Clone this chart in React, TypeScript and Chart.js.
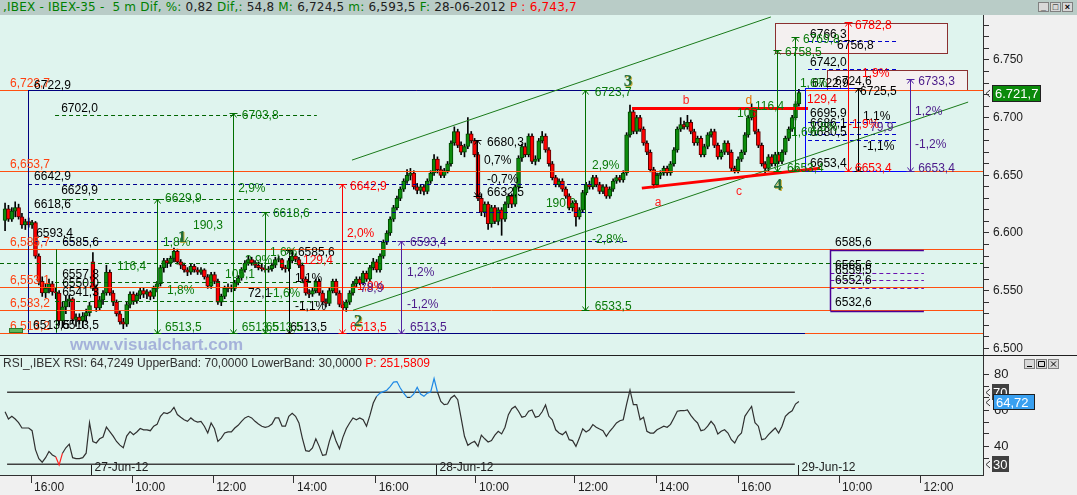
import React, { useEffect, useRef } from 'react';
import { Chart, registerables } from 'chart.js';

Chart.register(...registerables);

// ---------------- DATA ----------------
// 5-minute IBEX-35 candles: [open, high, low, close]
const bars26Jun: number[][] = [
  [6611, 6626, 6602, 6621], [6621, 6624, 6610, 6612], [6612, 6622, 6610, 6619], [6619, 6627, 6614, 6622],
  [6622, 6625, 6612, 6614], [6614, 6617, 6604, 6607], [6607, 6612, 6603, 6610], [6610, 6613, 6605, 6607],
  [6607, 6611, 6604, 6609], [6609, 6610, 6578, 6580], [6580, 6582, 6555, 6558], [6558, 6562, 6545, 6548],
  [6548, 6556, 6544, 6552], [6552, 6560, 6548, 6556], [6556, 6558, 6546, 6549], [6549, 6552, 6543, 6548],
  [6548, 6550, 6520, 6524], [6524, 6540, 6518, 6536], [6536, 6545, 6530, 6541], [6541, 6546, 6536, 6543],
  [6543, 6544, 6522, 6525], [6525, 6530, 6519, 6527], [6527, 6530, 6521, 6524], [6524, 6531, 6518, 6528],
  [6528, 6534, 6523, 6531], [6531, 6540, 6528, 6537],
];
const bars27Jun: number[][] = [
  [6575, 6583, 6550, 6552], [6552, 6555, 6532, 6535], [6535, 6545, 6533, 6542], [6542, 6550, 6538, 6548],
  [6548, 6572, 6546, 6566], [6566, 6568, 6546, 6548], [6548, 6550, 6537, 6540], [6540, 6542, 6528, 6530],
  [6530, 6533, 6521, 6523], [6523, 6526, 6517, 6521], [6521, 6540, 6519, 6538], [6538, 6549, 6535, 6547],
  [6547, 6549, 6538, 6541], [6541, 6548, 6539, 6546], [6546, 6552, 6543, 6550], [6550, 6552, 6544, 6547],
  [6547, 6551, 6543, 6549], [6549, 6550, 6542, 6545], [6545, 6554, 6543, 6552], [6552, 6558, 6549, 6556],
  [6556, 6572, 6554, 6570], [6570, 6578, 6566, 6576], [6576, 6578, 6570, 6574], [6574, 6580, 6571, 6578],
  [6578, 6587, 6575, 6584], [6584, 6586, 6573, 6575], [6575, 6577, 6569, 6572], [6572, 6574, 6566, 6568],
  [6568, 6570, 6563, 6566], [6566, 6573, 6564, 6571], [6571, 6573, 6566, 6568], [6568, 6570, 6564, 6566],
  [6566, 6570, 6564, 6568], [6568, 6569, 6560, 6562], [6562, 6564, 6552, 6554], [6554, 6566, 6552, 6564],
  [6564, 6566, 6556, 6558], [6558, 6560, 6538, 6540], [6540, 6547, 6537, 6545], [6545, 6554, 6543, 6552],
  [6552, 6556, 6549, 6553], [6553, 6555, 6549, 6552], [6552, 6559, 6550, 6557], [6557, 6563, 6555, 6561],
  [6561, 6570, 6559, 6568], [6568, 6576, 6566, 6574], [6574, 6580, 6572, 6577], [6577, 6579, 6572, 6574],
  [6574, 6576, 6570, 6572], [6572, 6575, 6568, 6570], [6570, 6573, 6567, 6569], [6569, 6572, 6566, 6568],
  [6568, 6571, 6566, 6569], [6569, 6574, 6567, 6572], [6572, 6579, 6570, 6577], [6577, 6580, 6575, 6577.5],
  [6577, 6578, 6568, 6570], [6570, 6572, 6566, 6569], [6569, 6578, 6567, 6576], [6576, 6586, 6574, 6580],
  [6580, 6582, 6575, 6577], [6577, 6579, 6570, 6572], [6572, 6574, 6558, 6560], [6560, 6562, 6546, 6548],
  [6548, 6551, 6544, 6547], [6547, 6552, 6545, 6550], [6550, 6560, 6548, 6558], [6558, 6560, 6546, 6548],
  [6548, 6550, 6538, 6540], [6540, 6543, 6536, 6539], [6539, 6552, 6537, 6550], [6550, 6560, 6548, 6558],
  [6558, 6560, 6546, 6548], [6548, 6550, 6536, 6538], [6538, 6541, 6533, 6535], [6535, 6542, 6532, 6540],
  [6540, 6550, 6538, 6548], [6548, 6558, 6546, 6556], [6556, 6562, 6553, 6560], [6560, 6562, 6555, 6557],
  [6557, 6567, 6555, 6565], [6565, 6567, 6558, 6560], [6560, 6572, 6558, 6570], [6570, 6578, 6568, 6575],
  [6575, 6577, 6566, 6568], [6568, 6582, 6566, 6580], [6580, 6594, 6578, 6592], [6592, 6602, 6590, 6600],
  [6600, 6614, 6598, 6612], [6612, 6624, 6610, 6622], [6622, 6632, 6620, 6630], [6630, 6640, 6628, 6638],
  [6638, 6647, 6636, 6645], [6645, 6655, 6643, 6650], [6650, 6656, 6646, 6652], [6652, 6654, 6638, 6640],
  [6640, 6643, 6634, 6637], [6637, 6642, 6634, 6640], [6640, 6642, 6633, 6636], [6636, 6647, 6634, 6645],
  [6645, 6654, 6643, 6652], [6652, 6668, 6650, 6664],
];
const bars28Jun: number[][] = [
  [6664, 6666, 6652, 6655], [6655, 6658, 6648, 6650], [6650, 6656, 6648, 6654], [6654, 6662, 6652, 6660],
  [6660, 6680, 6658, 6678], [6678, 6692, 6676, 6688], [6688, 6690, 6674, 6676], [6676, 6679, 6668, 6670],
  [6670, 6677, 6666, 6675], [6675, 6700, 6673, 6686], [6686, 6688, 6678, 6680], [6680, 6682, 6666, 6668],
  [6668, 6670, 6628, 6630], [6630, 6634, 6615, 6618], [6618, 6627, 6614, 6625], [6625, 6627, 6603, 6608],
  [6608, 6624, 6605, 6622], [6622, 6624, 6608, 6610], [6610, 6622, 6607, 6620], [6620, 6622, 6598, 6612],
  [6612, 6627, 6610, 6625], [6625, 6634, 6622, 6632], [6632, 6634, 6622, 6625], [6625, 6642, 6623, 6640],
  [6640, 6667, 6638, 6665], [6665, 6677, 6662, 6675], [6675, 6678, 6666, 6668], [6668, 6686, 6666, 6684],
  [6684, 6686, 6660, 6662], [6662, 6667, 6659, 6664], [6664, 6682, 6662, 6680], [6680, 6688, 6678, 6684],
  [6684, 6686, 6670, 6672], [6672, 6674, 6658, 6660], [6660, 6662, 6646, 6648], [6648, 6650, 6640, 6642],
  [6642, 6647, 6640, 6645], [6645, 6647, 6636, 6638], [6638, 6640, 6630, 6632], [6632, 6634, 6620, 6622],
  [6622, 6628, 6619, 6626], [6626, 6628, 6606, 6614], [6614, 6622, 6612, 6620], [6620, 6637, 6618, 6635],
  [6635, 6644, 6633, 6642], [6642, 6645, 6638, 6640], [6640, 6650, 6638, 6648], [6648, 6650, 6640, 6642],
  [6642, 6644, 6634, 6636], [6636, 6642, 6634, 6640], [6640, 6642, 6630, 6632], [6632, 6640, 6630, 6638],
  [6638, 6647, 6636, 6645], [6645, 6650, 6643, 6648], [6648, 6650, 6644, 6646], [6646, 6654, 6644, 6652],
  [6652, 6687, 6650, 6685], [6685, 6711, 6683, 6705], [6705, 6707, 6686, 6688], [6688, 6702, 6686, 6700],
  [6700, 6702, 6688, 6690], [6690, 6692, 6676, 6678], [6678, 6680, 6668, 6670], [6670, 6672, 6653, 6655],
  [6655, 6657, 6639, 6642], [6642, 6652, 6640, 6650], [6650, 6654, 6647, 6652], [6652, 6658, 6650, 6656],
  [6656, 6658, 6650, 6652], [6652, 6662, 6650, 6660], [6660, 6674, 6658, 6672], [6672, 6692, 6670, 6690],
  [6690, 6700, 6688, 6694], [6694, 6697, 6690, 6692], [6692, 6702, 6690, 6696], [6696, 6698, 6686, 6688],
  [6688, 6690, 6676, 6678], [6678, 6684, 6676, 6682], [6682, 6684, 6666, 6668], [6668, 6677, 6666, 6675],
  [6675, 6687, 6673, 6685], [6685, 6690, 6683, 6688], [6688, 6690, 6674, 6676], [6676, 6678, 6664, 6666],
  [6666, 6672, 6664, 6670], [6670, 6680, 6668, 6678], [6678, 6680, 6668, 6670], [6670, 6672, 6654, 6656],
  [6656, 6658, 6652, 6654], [6654, 6666, 6652, 6664], [6664, 6672, 6662, 6670], [6670, 6687, 6668, 6685],
  [6685, 6702, 6683, 6700], [6700, 6712, 6698, 6707], [6707, 6709, 6686, 6688], [6688, 6690, 6674, 6676],
  [6676, 6678, 6658, 6660], [6660, 6662, 6652, 6656], [6656, 6668, 6654, 6666], [6666, 6668, 6658, 6660],
  [6660, 6670, 6658, 6668], [6668, 6670, 6660, 6662], [6662, 6672, 6660, 6670], [6670, 6684, 6668, 6682],
  [6682, 6692, 6680, 6690], [6690, 6702, 6688, 6700], [6700, 6714, 6698, 6712], [6712, 6724.5, 6710, 6721.7],
];

// RSI values, one per candle
const rsiValues: number[] = [
  59, 55, 56.5, 55, 53, 50, 50, 50, 48.5, 38,
  33, 31, 33.5, 37, 35, 34, 29.5, 36, 39, 41,
  33.5, 33, 33, 33.5, 36, 53, 42.5, 41.7, 44, 45,
  50.5, 48, 45.5, 42.5, 40.5, 39, 45.5, 48, 46.3, 47.8,
  49.7, 49, 49, 48.5, 51, 52, 56.5, 58.5, 58, 59,
  61.5, 57.5, 56, 54.6, 53.7, 55.6, 54, 53.3, 53.7, 51,
  47.2, 52.8, 49.6, 42.6, 44.4, 47.2, 47.8, 47.8, 50, 51.5,
  53.7, 55.6, 56.5, 55.6, 53.7, 52.2, 51, 50.4, 50.8, 52.2,
  55.6, 55.6, 51, 51, 56.5, 58.2, 56.5, 52.8, 44.4, 37.4,
  37, 38.9, 44, 39.8, 34.8, 35.2, 42.6, 48.2, 42.6, 38.5,
  44.8, 49.6, 52.8, 55.6, 54.6, 55.6, 54.6, 51, 57, 63.9,
  67.6, 69.4, 70.2, 71, 73, 75.5, 75.8, 72.2, 69.4, 67,
  67, 68.9, 72.6, 68.9, 67.6, 69.4, 70, 77.5, 70, 64.8,
  63, 63.3, 66.7, 68.1, 65.7, 55.6, 45.4, 40.4, 41.7, 42.6,
  39.8, 46, 44, 42.2, 43, 46, 48.2, 46.7, 50.4, 57.4,
  60.7, 62, 59.3, 56, 56.5, 59.3, 60, 56, 56.5, 59,
  62.8, 56.5, 54.6, 49, 47.2, 46.3, 48, 43.5, 43, 39.8,
  44.4, 49.6, 47.8, 49, 51.9, 50.4, 49.4, 48.5, 45.4, 48.2,
  50.4, 52.8, 54, 54.6, 63.3, 71, 63, 63, 54.6, 56,
  48.2, 47.2, 47.2, 49, 50, 51, 50.4, 52, 55.6, 59.3,
  59.6, 59.6, 60, 57, 54.6, 52.8, 48.5, 49, 51, 53.7,
  51.5, 46.7, 48.2, 49, 47.2, 43.5, 41.7, 45.4, 47.2, 56.5,
  59.3, 62, 53, 51, 43.5, 44, 46.3, 48.2, 50, 47.2,
  51, 56.5, 58.3, 59.6, 63.3, 64.72,
];

const lastPrice = 6721.7;
const lastPriceLabel = '6.721,7';
const lastRsi = 64.72;
const lastRsiLabel = '64,72';

const priceTicks = [
  6500, 6510, 6520, 6530, 6540, 6550, 6560, 6570, 6580, 6590, 6600, 6610, 6620, 6630, 6640,
  6650, 6660, 6670, 6680, 6690, 6700, 6710, 6720, 6730, 6740, 6750, 6760, 6770, 6780,
];
const rsiTicks = [33.33, 40, 46.67, 53.33, 60, 66.67, 73.33, 80];
const rsiTickLabels = ['', '40', '', '', '60', '', '', '80'];
const rsiBands = [70, 30];
const rsiBandLabels = ['70', '30'];

const timeTickPos = [7.7, 37.6, 61.6, 85.5, 109.7, 139.4, 168.7, 192.7, 217, 246.9, 271];
const timeTickLabels = ['16:00', '10:00', '12:00', '14:00', '16:00', '10:00', '12:00', '14:00', '16:00', '10:00', '12:00'];
const dateSepPos = [25.4, 127.6, 234.7];
const dateSepLabels = ['27-Jun-12', '28-Jun-12', '29-Jun-12'];

// Level lines: [fromBar, toBar, price, style]
const levelLines: [number, number, number, string][] = [
  [-1.5, 289.5, 6723.7, 'orange'], [-1.5, 289.5, 6653.7, 'orange'], [-1.5, 289.5, 6585.7, 'orange'],
  [-1.5, 289.5, 6553.1, 'orange'], [-1.5, 289.5, 6533.2, 'orange'], [-1.5, 289.5, 6513.2, 'orange'],
  [6.8, 236.8, 6723.7, 'navy'], [6.8, 236.8, 6513.5, 'navy'],
  [6.8, 174.6, 6642.9, 'navyDash'], [6.8, 174.6, 6618.6, 'navyDash'], [6.8, 185, 6593.4, 'navyDash'],
  [14.8, 92.3, 6702.0, 'greenDash'], [14.8, 92.3, 6629.9, 'greenDash'], [-1.5, 289.5, 6574.4, 'greenDash'],
  [14.8, 92.3, 6557.8, 'greenDash'], [14.8, 92.3, 6540.8, 'greenDash'],
  [236.8, 252.5, 6725.5, 'blue'], [236.8, 267.9, 6653.4, 'blue'],
  [237.7, 264, 6766.3, 'blueDash'], [237.7, 264, 6742.0, 'blueDash'], [237.7, 264, 6695.9, 'blueDash'],
  [237.7, 264, 6686.1, 'blueDash'], [237.7, 264, 6680.5, 'blueDash'],
  [244.3, 272, 6585.6, 'purple'], [244.3, 272, 6532.6, 'purple'],
  [244.3, 272, 6565.6, 'purpleDash'], [244.3, 272, 6559.5, 'purpleDash'], [244.3, 272, 6552.6, 'purpleDash'],
  [185.6, 237.7, 6708.3, 'redThick'],
];
const levelLabels: [string, number][] = [
  ['6,723,7', 6723.7], ['6,653,7', 6653.7], ['6,585,7', 6585.7], ['6,553,1', 6553.1], ['6,533,2', 6533.2], ['6,513,2', 6513.2],
];
// Vertical lines: [bar, priceLow, priceHigh, style]
const verticalLines: [number, number, number, string][] = [
  [6.8, 6513.5, 6723.7, 'navy'], [15.1, 6513.5, 6585.7, 'green'],
  [236.8, 6653.4, 6725.5, 'blue'], [244.3, 6532.6, 6585.6, 'purple'],
];
// Slanted lines: [bar0, price0, bar1, price1, style]
const trendLines: [number, number, number, number, string][] = [
  [102.7, 6663.2, 226.7, 6787.3, 'channel'],
  [103.0, 6533.0, 285.1, 6713.5, 'channel'],
  [188.5, 6638.9, 241.3, 6656.2, 'redThick'],
];
// Range arrows: [bar, priceTop, priceBottom, color]
const rangeArrows: [number, number, number, string][] = [
  [45.0, 6629.9, 6513.5, 'g'], [67.5, 6703.8, 6513.5, 'g'], [77.0, 6618.6, 6513.5, 'g'], [84.1, 6585.6, 6513.5, 'k'],
  [99.7, 6642.9, 6513.5, 'r'], [117.2, 6593.4, 6513.5, 'p'], [139.7, 6680.3, 6632.5, 'k'], [171.7, 6723.7, 6533.5, 'g'],
  [228.5, 6758.5, 6653.4, 'g'], [233.8, 6769.8, 6653.4, 'g'], [249.5, 6782.8, 6653.4, 'r'], [252.5, 6725.5, 6653.4, 'k'],
  [267.9, 6733.3, 6653.4, 'p'],
];
// Note boxes: [bar0, bar1, priceLow, priceHigh]
const noteBoxes: [number, number, number, number][] = [
  [227.9, 278.8, 6756.2, 6782.2],
  [243.3, 284.8, 6724.0, 6741.3],
];
// Text notes: [text, bar, price, color]
const notes: [string, number, number, string][] = [
  ['6722,9', 8.6, 6727.5, 'k'], ['6702,0', 16.6, 6707.5, 'k'], ['6642,9', 8.6, 6648.6, 'k'], ['6629,9', 16.6, 6636.4, 'k'],
  ['6618,6', 8.6, 6624.3, 'k'], ['6593,4', 9.2, 6599.1, 'k'], ['6585,6', 16.9, 6591.3, 'k'], ['6557,8', 16.9, 6563.6, 'k'],
  ['6550,0', 16.9, 6555.8, 'k'], ['6541,3', 16.9, 6548.0, 'k'], ['6513,5', 8.3, 6519.4, 'k'], ['6513,5', 16.9, 6519.4, 'k'],
  ['6585,6', 86.7, 6582.7, 'k'], ['1,1%', 85.8, 6560.1, 'k'], ['72,1', 71.9, 6547.1, 'k'], ['-1,1%', 85.8, 6535.8, 'k'],
  ['6513,5', 84.4, 6517.6, 'k'], ['6680,3', 142.7, 6678.0, 'k'], ['0,7%', 141.8, 6662.4, 'k'], ['-0,7%', 142.7, 6646.0, 'k'],
  ['6632,5', 142.7, 6634.7, 'k'], ['6766,3', 238.3, 6771.7, 'k'], ['6756,8', 246.3, 6762.1, 'k'], ['6742,0', 238.3, 6747.4, 'k'],
  ['6722,9', 238.9, 6729.2, 'k'], ['6724,6', 245.7, 6730.9, 'k'], ['6725,5', 253.1, 6722.3, 'k'], ['6695,9', 238.3, 6703.2, 'k'],
  ['1,1%', 254, 6700.6, 'k'], ['6686,1', 238.3, 6694.5, 'k'], ['6680,5', 238.3, 6686.7, 'k'], ['-1,1%', 254, 6674.6, 'k'],
  ['6653,4', 238.3, 6659.8, 'k'], ['6585,6', 245.7, 6591.3, 'k'], ['6565,6', 245.7, 6571.3, 'k'], ['6559,5', 245.7, 6567.0, 'k'],
  ['6552,6', 245.7, 6558.4, 'k'], ['6532,6', 245.7, 6539.3, 'k'],
  ['6629,9', 47.35, 6629.5, 'g'], ['190,3', 55.64, 6606.1, 'g'], ['116,4', 33.14, 6570.5, 'g'], ['1,8%', 46.75, 6591.3, 'g'],
  ['1,8%', 47.94, 6549.7, 'g'], ['6703,8', 70.1, 6701.4, 'g'], ['2,9%', 69.0, 6638.1, 'g'], ['6618,6', 79.3, 6616.5, 'g'],
  ['1,6%', 78.4, 6582.7, 'g'], ['2,9%', 71.0, 6575.7, 'g'], ['105,1', 65.1, 6563.6, 'g'], ['-1,6%', 78.1, 6547.1, 'g'],
  ['6513,5', 47.35, 6517.6, 'g'], ['6513,5', 70.1, 6517.6, 'g'], ['6513,5', 77.2, 6517.6, 'g'], ['6723,7', 174.6, 6721.4, 'g'],
  ['2,9%', 173.75, 6658.1, 'g'], ['190,2', 160.1, 6625.1, 'g'], ['-2,8%', 173.75, 6593.9, 'g'], ['6533,5', 174.6, 6535.8, 'g'],
  ['6758,5', 230.9, 6756.1, 'g'], ['6769,8', 236.2, 6767.3, 'g'], ['105', 216.7, 6703.2, 'g'], ['116,4', 222, 6709.2, 'g'],
  ['1,6%', 235.3, 6729.2, 'g'], ['-1,6%', 231.5, 6686.7, 'g'], ['1,8%', 238.3, 6691.0, 'g'], ['6653,4', 231.5, 6655.5, 'g'],
  ['129,4', 88.2, 6575.7, 'r'], ['-1,9%', 103.0, 6553.2, 'r'], ['2,0%', 101.2, 6599.1, 'r'], ['6642,9', 102.1, 6639.9, 'r'],
  ['6513,5', 102.1, 6517.6, 'r'], ['6782,8', 251.6, 6779.5, 'r'], ['1,9%', 253.7, 6737.9, 'r'], ['-1,9%', 249.5, 6693.6, 'r'],
  ['129,4', 237.4, 6715.3, 'r'], ['6653,4', 251.6, 6655.5, 'r'],
  ['6593,4', 119.9, 6591.3, 'p'], ['1,2%', 119, 6565.3, 'p'], ['-1,2%', 119, 6537.6, 'p'], ['6513,5', 119.9, 6517.6, 'p'],
  ['78,9', 105.07, 6551.4, 'p'], ['6733,3', 270.3, 6730.9, 'p'], ['1,2%', 269.4, 6704.9, 'p'], ['-1,2%', 269.4, 6676.3, 'p'],
  ['6653,4', 270.3, 6655.5, 'p'], ['79,9', 256.05, 6691.0, 'p'],
];
// Pattern letters (centered): [text, bar, price, color]
const patternLetters: [string, number, number, string][] = [
  ['a', 193.3, 6626.0, '#ff2020'], ['b', 201.6, 6714.4, '#ff2020'], ['c', 217.3, 6635.5, '#ff2020'], ['d', 220.2, 6714.4, '#e87000'],
];
// Elliott wave counts: [text, bar, price]
const waveLabels: [string, number, number][] = [
  ['1', 52.4, 6595.7], ['2', 104.5, 6522.8], ['3', 184.4, 6730.9], ['4', 228.8, 6640.7],
];

// ---------------- STYLE ----------------
const PANEL_BG = '#dff4ee';
const AXIS_BG = '#f0f0f0';
const HEADER_BG = '#b9ccc7';
const FONT = '"Liberation Sans", Arial, sans-serif';
const TEXT_COLORS: Record<string, string> = { k: '#000000', g: '#0a7a0a', r: '#ff0000', p: '#4b1a8a' };
const LINE_STYLES: Record<string, { c: string; w: number; d: number[] }> = {
  orange: { c: '#ff5010', w: 1, d: [] },
  navy: { c: '#000080', w: 1, d: [] },
  navyDash: { c: '#000090', w: 1, d: [4, 3] },
  greenDash: { c: '#006400', w: 1, d: [4, 3] },
  green: { c: '#006400', w: 1, d: [] },
  blue: { c: '#0000ff', w: 1, d: [] },
  blueDash: { c: '#0000cc', w: 1, d: [4, 3] },
  purple: { c: '#4b0096', w: 1.5, d: [] },
  purpleDash: { c: '#6a10b0', w: 1, d: [4, 3] },
  redThick: { c: '#ff0000', w: 3, d: [] },
  channel: { c: '#1a7a1a', w: 1, d: [] },
};
const ARROW_COLORS: Record<string, string> = { k: '#000000', g: '#007000', r: '#ff0000', p: '#5020a0' };

const X_MIN = -1.5;
const X_MAX = 289.5;
const PRICE_MAX = 6789.0;
const PRICE_MIN = 6493.35;
const RSI_MAX = 90;
const RSI_MIN = 23.889;

const fmtPrice = (v: number) => {
  const s = Math.round(v).toString();
  return s[0] + '.' + s.slice(1);
};

function crisp(v: number) {
  return Math.round(v) + 0.5;
}

function noPad(s: any) {
  s.paddingTop = 0;
  s.paddingBottom = 0;
  s.paddingLeft = 0;
  s.paddingRight = 0;
}

function strokeLine(ctx: CanvasRenderingContext2D, x0: number, y0: number, x1: number, y1: number, style: string) {
  const s = LINE_STYLES[style];
  ctx.save();
  ctx.strokeStyle = s.c;
  ctx.lineWidth = s.w;
  ctx.setLineDash(s.d);
  ctx.beginPath();
  ctx.moveTo(x0, y0);
  ctx.lineTo(x1, y1);
  ctx.stroke();
  ctx.restore();
}

const mainPlugin = {
  id: 'mainDecor',
  beforeDraw(chart: any) {
    const { ctx, chartArea: a, width, height } = chart;
    ctx.save();
    ctx.fillStyle = AXIS_BG;
    ctx.fillRect(0, 0, width, height);
    ctx.fillStyle = PANEL_BG;
    ctx.fillRect(a.left, a.top, a.right - a.left, a.bottom - a.top);
    // watermark
    ctx.font = `bold 17px ${FONT}`;
    ctx.fillStyle = 'rgba(140,150,210,0.7)';
    ctx.textBaseline = 'middle';
    ctx.fillText('www.visualchart.com', a.left + 70, a.bottom - 11);
    ctx.restore();
  },
  afterDatasetsDraw(chart: any) {
    const { ctx, chartArea: a } = chart;
    const xs = chart.scales.x;
    const ys = chart.scales.y;
    const X = (i: number) => xs.getPixelForValue(i);
    const Y = (p: number) => ys.getPixelForValue(p);
    ctx.save();
    ctx.beginPath();
    ctx.rect(a.left, a.top, a.right - a.left, a.bottom - a.top);
    ctx.clip();

    for (const [b0, b1, pl, ph] of noteBoxes) {
      const x0 = crisp(X(b0)), x1 = crisp(X(b1)), y0 = crisp(Y(ph)), y1 = crisp(Y(pl));
      ctx.fillStyle = '#f4f0f0';
      ctx.fillRect(x0, y0, x1 - x0, y1 - y0);
      ctx.strokeStyle = '#8b3030';
      ctx.lineWidth = 1;
      ctx.strokeRect(x0, y0, x1 - x0, y1 - y0);
    }
    for (const [b0, b1, p, st] of levelLines) {
      const y = crisp(Y(p));
      strokeLine(ctx, X(b0), y, X(b1), y, st);
    }
    for (const [b, p0, p1, st] of verticalLines) {
      const x = crisp(X(b));
      strokeLine(ctx, x, Y(p0), x, Y(p1), st);
    }
    for (const [b0, p0, b1, p1, st] of trendLines) {
      strokeLine(ctx, X(b0), Y(p0), X(b1), Y(p1), st);
    }
    for (const [b, pt, pb, c] of rangeArrows) {
      const x = crisp(X(b));
      const yt = crisp(Y(pt));
      const yb = crisp(Y(pb));
      ctx.strokeStyle = ARROW_COLORS[c];
      ctx.lineWidth = 1;
      ctx.setLineDash([]);
      ctx.beginPath();
      ctx.moveTo(x, yt); ctx.lineTo(x, yb);
      ctx.moveTo(x - 4, yt); ctx.lineTo(x + 4, yt);
      ctx.moveTo(x - 3, yt + 4); ctx.lineTo(x, yt); ctx.lineTo(x + 3, yt + 4);
      ctx.moveTo(x - 4, yb); ctx.lineTo(x + 4, yb);
      ctx.moveTo(x - 3, yb - 4); ctx.lineTo(x, yb); ctx.lineTo(x + 3, yb - 4);
      ctx.stroke();
    }
    ctx.font = `12px ${FONT}`;
    ctx.textBaseline = 'alphabetic';
    ctx.fillStyle = '#ff4010';
    for (const [t, p] of levelLabels) {
      ctx.fillText(t, a.left + 10, Y(p) - 3);
    }
    ctx.textBaseline = 'middle';
    ctx.textAlign = 'left';
    for (const [t, b, p, c] of notes) {
      ctx.fillStyle = TEXT_COLORS[c];
      ctx.fillText(t, X(b), Y(p));
    }
    ctx.textAlign = 'center';
    for (const [t, b, p, c] of patternLetters) {
      ctx.fillStyle = c;
      ctx.fillText(t, X(b), Y(p));
    }
    ctx.font = `bold 17px "Liberation Serif", "DejaVu Serif", serif`;
    for (const [t, b, p] of waveLabels) {
      ctx.fillStyle = '#c8b040';
      ctx.fillText(t, X(b) + 1, Y(p) + 1);
      ctx.fillStyle = '#1f6a3a';
      ctx.fillText(t, X(b), Y(p));
    }
    ctx.fillStyle = '#5cb85c';
    ctx.fillRect(a.left + 9, a.bottom - 28, 14, 5);
    ctx.strokeStyle = '#2a7a2a';
    ctx.strokeRect(a.left + 9.5, a.bottom - 27.5, 13, 4);
    ctx.restore();
  },
  afterDraw(chart: any) {
    const { ctx, chartArea: a, width } = chart;
    const ys = chart.scales.y;
    const y = Math.round(ys.getPixelForValue(lastPrice));
    ctx.save();
    ctx.strokeStyle = '#333';
    ctx.lineWidth = 1;
    ctx.beginPath();
    ctx.moveTo(a.right + 7, y - 3); ctx.lineTo(a.right + 3, y + 0.5); ctx.lineTo(a.right + 7, y + 4);
    ctx.stroke();
    ctx.fillStyle = '#0a8a0a';
    ctx.fillRect(a.right + 9, y - 8, 49, 17);
    ctx.strokeStyle = '#202020';
    ctx.strokeRect(a.right + 9.5, y - 7.5, 48, 16);
    ctx.fillStyle = '#ffffff';
    ctx.font = `13px ${FONT}`;
    ctx.textBaseline = 'middle';
    ctx.fillText(lastPriceLabel, a.right + 12, y + 1);
    ctx.fillStyle = '#202020';
    ctx.fillRect(0, chart.height - 1, width, 1);
    ctx.restore();
  },
};

function drawButtons(ctx: CanvasRenderingContext2D, x: number, y: number) {
  for (let k = 0; k < 3; k++) {
    const bx = x + k * 12;
    ctx.fillStyle = '#d8d8d8';
    ctx.fillRect(bx, y, 11, 10);
    ctx.strokeStyle = '#808080';
    ctx.strokeRect(bx + 0.5, y + 0.5, 10, 9);
    ctx.strokeStyle = '#000';
    ctx.beginPath();
    if (k === 0) {
      ctx.moveTo(bx + 3, y + 7.5); ctx.lineTo(bx + 8, y + 7.5);
    } else if (k === 1) {
      ctx.rect(bx + 2.5, y + 2.5, 6, 5);
    } else {
      ctx.moveTo(bx + 3, y + 2.5); ctx.lineTo(bx + 8, y + 7.5);
      ctx.moveTo(bx + 8, y + 2.5); ctx.lineTo(bx + 3, y + 7.5);
    }
    ctx.stroke();
  }
}

const rsiPlugin = {
  id: 'rsiDecor',
  beforeDraw(chart: any) {
    const { ctx, chartArea: a, width, height } = chart;
    ctx.save();
    ctx.fillStyle = AXIS_BG;
    ctx.fillRect(0, 0, width, height);
    ctx.fillStyle = PANEL_BG;
    ctx.fillRect(a.left, a.top, a.right - a.left, a.bottom - a.top);
    ctx.restore();
  },
  beforeDatasetsDraw(chart: any) {
    const { ctx } = chart;
    const xs = chart.scales.x;
    const ys = chart.scales.y;
    ctx.save();
    ctx.strokeStyle = '#404040';
    ctx.lineWidth = 1.5;
    for (const b of rsiBands) {
      const y = Math.round(ys.getPixelForValue(b)) + 0.25;
      ctx.beginPath();
      ctx.moveTo(xs.getPixelForValue(0.6), y);
      ctx.lineTo(xs.getPixelForValue(233.8), y);
      ctx.stroke();
    }
    ctx.restore();
  },
  afterDraw(chart: any) {
    const { ctx, chartArea: a } = chart;
    const xs = chart.scales.x;
    const ys = chart.scales.y;
    ctx.save();
    ctx.font = `12px ${FONT}`;
    ctx.textBaseline = 'middle';
    const head = 'RSI_,IBEX RSI: 64,7249 UpperBand: 70,0000 LowerBand: 30,0000 ';
    ctx.fillStyle = '#303030';
    ctx.fillText(head, 3, 8);
    const w = ctx.measureText(head).width;
    ctx.fillStyle = '#ff0000';
    ctx.fillText('P: 251,5809', 3 + w, 8);
    ctx.fillStyle = '#202020';
    ctx.strokeStyle = '#202020';
    ctx.lineWidth = 1;
    dateSepPos.forEach((pos, k) => {
      const x = crisp(xs.getPixelForValue(pos));
      ctx.beginPath();
      ctx.moveTo(x, a.bottom - 10);
      ctx.lineTo(x, a.bottom);
      ctx.stroke();
      ctx.fillText(dateSepLabels[k], x + 3, a.bottom - 7);
    });
    ctx.font = `13px ${FONT}`;
    rsiBands.forEach((b, k) => {
      const y = Math.round(ys.getPixelForValue(b));
      ctx.strokeStyle = '#333';
      ctx.beginPath();
      ctx.moveTo(a.right + 7, y - 3); ctx.lineTo(a.right + 3, y + 0.5); ctx.lineTo(a.right + 7, y + 4);
      ctx.stroke();
      ctx.fillStyle = '#404040';
      ctx.fillRect(a.right + 9, y - 8, 17, 16);
      ctx.fillStyle = '#ffffff';
      ctx.fillText(rsiBandLabels[k], a.right + 10, y + 1);
    });
    const yl = Math.round(ys.getPixelForValue(lastRsi));
    ctx.strokeStyle = '#333';
    ctx.beginPath();
    ctx.moveTo(a.right + 7, yl - 3); ctx.lineTo(a.right + 3, yl + 0.5); ctx.lineTo(a.right + 7, yl + 4);
    ctx.stroke();
    ctx.fillStyle = '#39a0f0';
    ctx.fillRect(a.right + 10, yl - 8, 42, 16);
    ctx.strokeStyle = '#202020';
    ctx.strokeRect(a.right + 10.5, yl - 7.5, 41, 15);
    ctx.fillStyle = '#ffffff';
    ctx.fillText(lastRsiLabel, a.right + 13, yl + 1);
    drawButtons(ctx, 1024, 3);
    ctx.restore();
  },
};

function buildMainConfig(): any {
  const all = [...bars26Jun, ...bars27Jun, ...bars28Jun];
  const bodies = all.map((b, i) => ({ x: i, y: [b[0], b[3]] }));
  const wicks = all.map((b, i) => ({ x: i, y: [b[2], b[1]] }));
  const fill = all.map((b) => (b[3] >= b[0] ? '#0c8c0c' : '#ff0000'));
  const border = all.map((b) => (b[3] >= b[0] ? '#004400' : '#5a0000'));
  return {
    type: 'bar',
    data: {
      datasets: [
        {
          label: 'body', data: bodies, backgroundColor: fill, borderColor: border, borderWidth: 1,
          borderSkipped: false, barThickness: 4, grouped: false, minBarLength: 1, order: 0,
        },
        { label: 'wick', data: wicks, backgroundColor: '#000000', borderWidth: 0, barThickness: 1, grouped: false, order: 1 },
      ],
    },
    options: {
      animation: false,
      responsive: false,
      maintainAspectRatio: false,
      devicePixelRatio: 1,
      layout: { padding: 0 },
      plugins: { legend: { display: false }, tooltip: { enabled: false } },
      scales: {
        x: { type: 'linear', min: X_MIN, max: X_MAX, display: false, offset: false },
        y: {
          type: 'linear', position: 'right', min: PRICE_MIN, max: PRICE_MAX,
          afterFit: (s: any) => { s.width = 94; noPad(s); },
          afterBuildTicks: (s: any) => { s.ticks = priceTicks.map((v) => ({ value: v })); },
          ticks: {
            autoSkip: false,
            callback: (v: any) => (Math.round(v) % 50 === 0 ? fmtPrice(v) : ''),
            color: '#202020', font: { family: FONT, size: 12 }, padding: 4,
          },
          grid: { drawOnChartArea: false, tickLength: 6, color: '#303030' },
          border: { color: '#303030' },
        },
      },
    },
    plugins: [mainPlugin],
  };
}

function buildRsiConfig(): any {
  return {
    type: 'line',
    data: {
      datasets: [
        {
          data: rsiValues.map((v, i) => ({ x: i, y: v })),
          borderColor: '#303030', borderWidth: 1.2, pointRadius: 0, tension: 0,
          segment: {
            borderColor: (c: any) => {
              const a = c.p0.parsed.y, b = c.p1.parsed.y;
              if (Math.min(a, b) <= 30) return '#ff2020';
              if ((a + b) / 2 >= 67.5) return '#1e88e5';
              return '#303030';
            },
          },
        },
      ],
    },
    options: {
      animation: false,
      responsive: false,
      maintainAspectRatio: false,
      devicePixelRatio: 1,
      layout: { padding: 0 },
      plugins: { legend: { display: false }, tooltip: { enabled: false } },
      scales: {
        x: {
          type: 'linear', min: X_MIN, max: X_MAX, position: 'bottom', offset: false,
          afterFit: (s: any) => { s.height = 20; noPad(s); },
          afterBuildTicks: (s: any) => { s.ticks = timeTickPos.map((v) => ({ value: v })); },
          ticks: {
            autoSkip: false, maxRotation: 0, minRotation: 0, align: 'start', labelOffset: 3, padding: -3,
            callback: (_v: any, idx: number) => timeTickLabels[idx],
            color: '#202020', font: { family: FONT, size: 12 },
          },
          grid: { drawOnChartArea: false, tickLength: 8, color: '#303030' },
          border: { color: '#303030' },
        },
        y: {
          type: 'linear', position: 'right', min: RSI_MIN, max: RSI_MAX,
          afterFit: (s: any) => { s.width = 94; noPad(s); },
          afterBuildTicks: (s: any) => { s.ticks = rsiTicks.map((v) => ({ value: v })); },
          ticks: {
            autoSkip: false,
            callback: (_v: any, idx: number) => rsiTickLabels[idx],
            color: '#202020', font: { family: FONT, size: 13 }, padding: 5,
          },
          grid: { drawOnChartArea: false, tickLength: 6, color: '#303030' },
          border: { color: '#303030' },
        },
      },
    },
    plugins: [rsiPlugin],
  };
}

const headerParts: [string, string][] = [
  [',IBEX - IBEX-35 -  5 m Dif, %: ', '#008000'], ['0,82 ', '#202020'], ['Dif,: ', '#008000'], ['54,8 ', '#202020'],
  ['M: ', '#008000'], ['6,724,5 ', '#202020'], ['m: ', '#008000'], ['6,593,5 ', '#202020'], ['F: ', '#008000'],
  ['28-06-2012 ', '#202020'], ['P : 6,743,7', '#ff0000'],
];

function HeaderButtons() {
  const glyphs = ['_', '□', '×'];
  return (
    <div style={{ position: 'absolute', right: 4, top: 2, display: 'flex', gap: 1 }}>
      {glyphs.map((g, k) => (
        <div key={k} style={{
          width: 11, height: 10, background: '#d8d8d8', border: '1px solid #808080', boxSizing: 'border-box',
          font: `bold 9px ${FONT}`, lineHeight: '8px', textAlign: 'center', color: '#000',
        }}>{g}</div>
      ))}
    </div>
  );
}

export default function App() {
  const mainRef = useRef<HTMLCanvasElement>(null);
  const rsiRef = useRef<HTMLCanvasElement>(null);

  useEffect(() => {
    document.body.style.margin = '0';
    const main = new Chart(mainRef.current as HTMLCanvasElement, buildMainConfig());
    const rsi = new Chart(rsiRef.current as HTMLCanvasElement, buildRsiConfig());
    return () => {
      main.destroy();
      rsi.destroy();
    };
  }, []);

  return (
    <div style={{ position: 'fixed', left: 0, top: 0, width: 1077, height: 495, background: AXIS_BG, overflow: 'hidden' }}>
      <div style={{
        position: 'absolute', left: 0, top: 0, width: 1077, height: 15, background: HEADER_BG,
        font: `12px "DejaVu Sans", ${FONT}`, lineHeight: '15px', whiteSpace: 'pre', letterSpacing: '0.2px',
      }}>
        <span style={{ paddingLeft: 3 }} />
        {headerParts.map(([t, c], k) => (
          <span key={k} style={{ color: c }}>{t}</span>
        ))}
        <HeaderButtons />
      </div>
      <canvas ref={mainRef} width={1077} height={341} style={{ position: 'absolute', left: 0, top: 15 }} />
      <canvas ref={rsiRef} width={1077} height={139} style={{ position: 'absolute', left: 0, top: 356 }} />
    </div>
  );
}
